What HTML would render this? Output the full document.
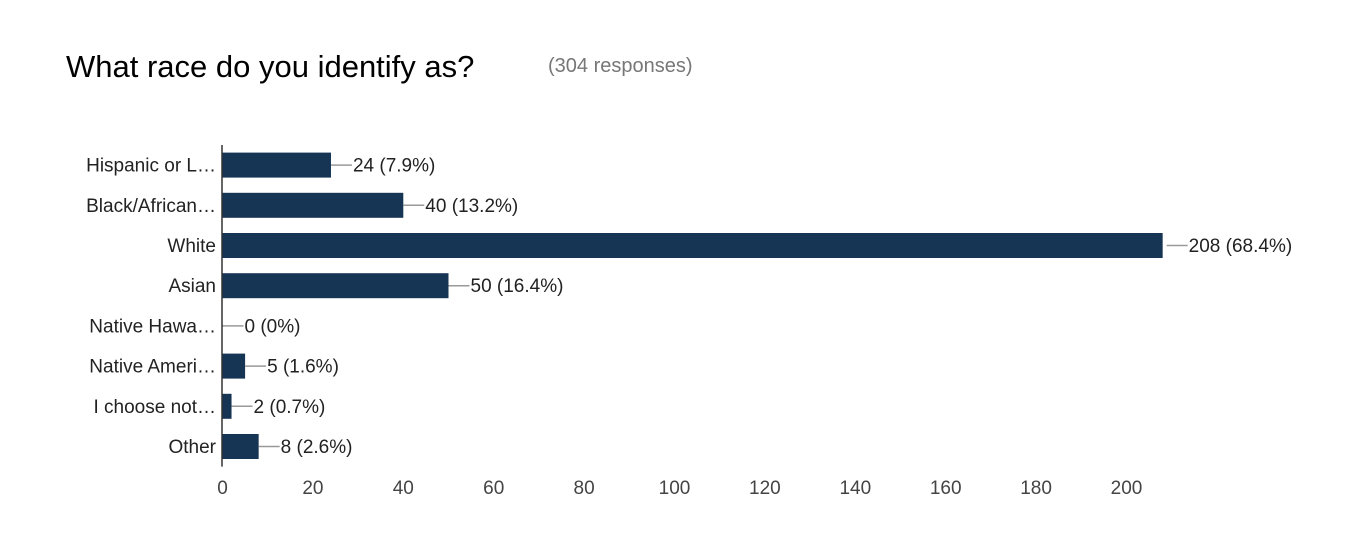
<!DOCTYPE html>
<html><head><meta charset="utf-8"><style>
body{margin:0;background:#fff;font-family:"Liberation Sans",Arial,sans-serif}
</style></head><body>
<svg width="1346" height="540" xmlns="http://www.w3.org/2000/svg">
<text x="66" y="77" font-size="31" fill="#000">What race do you identify as?</text>
<text x="548" y="72" font-size="20" fill="#777">(304 responses)</text>
<g id="chart"></g>
</svg>
<script>
const categories=["Hispanic or L…","Black/African…","White","Asian","Native Hawa…","Native Ameri…","I choose not…","Other"];
const values=[24,40,208,50,0,5,2,8];
const valueLabels=["24 (7.9%)","40 (13.2%)","208 (68.4%)","50 (16.4%)","0 (0%)","5 (1.6%)","2 (0.7%)","8 (2.6%)"];
const ticks=[0,20,40,60,80,100,120,140,160,180,200];
const NS="http://www.w3.org/2000/svg";
const g=document.getElementById('chart');
const x0=222.5,scale=4.52,top0=145,rowH=40.2,barH=25;
const X=v=>x0+v*scale;
const Y=i=>top0+i*rowH+rowH/2;
function mk(t,a){const e=document.createElementNS(NS,t);for(const k in a)e.setAttribute(k,a[k]);g.appendChild(e);return e;}
categories.forEach((c,i)=>{
  const cy=Y(i);
  const l=mk('text',{x:216,y:cy+6.5,'font-size':19,'text-anchor':'end',fill:'#222'});l.textContent=c;
  
  
  const w=values[i]*scale;
  if(w>0){const b=mk('rect',{x:x0,y:cy-barH/2,width:w,height:barH,fill:'#163454'});
  
  }
  const ex=X(values[i]);
  const gap=values[i]>150?4:0;
  const ln=mk('line',{x1:ex+gap,x2:ex+gap+21,y1:cy,y2:cy,stroke:'#999','stroke-width':1.5});
  
  
  const t=mk('text',{x:ex+gap+22,y:cy+6.5,'font-size':19,fill:'#222'});t.textContent=valueLabels[i];
  
  
});
const ax=mk('line',{x1:x0-0.5,x2:x0-0.5,y1:top0,y2:top0+rowH*8,stroke:'#333','stroke-width':1.5});


ticks.forEach(v=>{const t=mk('text',{x:X(v),y:494,'font-size':19,'text-anchor':'middle',fill:'#444'});t.textContent=v;
  
  });
</script>
</body></html>
